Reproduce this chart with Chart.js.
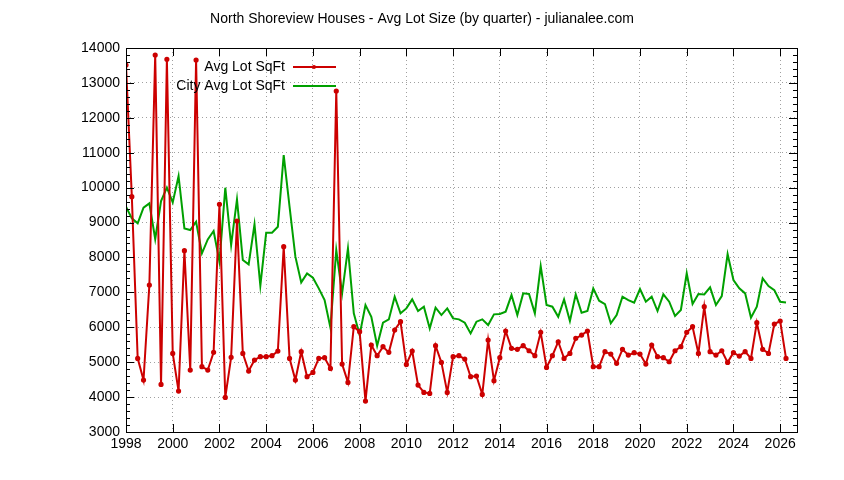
<!DOCTYPE html>
<html><head><meta charset="utf-8">
<script src="https://cdn.jsdelivr.net/npm/chart.js@4"></script>
<style>html,body{margin:0;padding:0;background:#fff}#w{width:844px;height:480px}</style>
</head><body><div id="w"><canvas id="c"></canvas></div>
<script>
const startYear = 1998;
const avgLot = [13513,9740,5109,4488,7210,13799,4364,13675,5252,4173,8193,4775,13656,4870,4775,5281,9521,3991,5138,9043,5252,4746,5061,5157,5157,5185,5319,8308,5109,4488,5300,4584,4708,5109,5128,4822,12768,4946,4421,6016,5873,3886,5491,5185,5443,5281,5921,6160,4937,5319,4345,4135,4106,5472,4994,4135,5157,5185,5090,4584,4603,4077,5634,4469,5128,5892,5396,5367,5472,5328,5185,5854,4851,5185,5586,5109,5252,5682,5777,5892,4870,4870,5300,5233,4966,5367,5204,5271,5233,4946,5491,5157,5128,5013,5328,5443,5854,6016,5252,6589,5300,5204,5328,4994,5271,5176,5300,5109,6131,5367,5252,6093,6179,5109];
const cityAvg = [9454,9120,8977,9425,9550,8528,9616,9998,9578,10333,8833,8786,9024,8117,8518,8757,7878,9998,8356,9664,7926,7802,8948,7191,8709,8709,8881,10934,9454,8022,7286,7544,7420,7114,6780,5987,8213,6971,8260,6398,5777,6637,6302,5472,6131,6226,6876,6398,6541,6799,6465,6589,5968,6560,6350,6541,6255,6226,6131,5825,6160,6226,6064,6370,6379,6446,6923,6350,6971,6952,6398,7754,6637,6589,6302,6799,6179,6942,6417,6465,7114,6761,6665,6112,6350,6876,6780,6704,7095,6732,6876,6465,6942,6732,6322,6494,7544,6665,6952,6942,7143,6637,6895,8098,7353,7114,6971,6274,6589,7401,7181,7066,6732,6713];
const xTicks = [1998,2000,2002,2004,2006,2008,2010,2012,2014,2016,2018,2020,2022,2024,2026];
const labels = ["Avg Lot SqFt","City Avg Lot SqFt"];
const title = "North Shoreview Houses - Avg Lot Size (by quarter) - julianalee.com";
const toXY = a => a.map((v,i)=>({x:startYear+i*0.25,y:v}));
const FONT = "'Liberation Sans', Arial, sans-serif";

const deco = {
  id:'deco',
  afterDraw(ch){
    const c=ch.ctx, a=ch.chartArea;
    c.save();
    c.strokeStyle='#000'; c.lineWidth=1;
    c.strokeRect(a.left+0.5,a.top+0.5,a.right-a.left,a.bottom-a.top);
    const y=ch.scales.y;
    for(let v=3000;v<=14000;v+=200){
      const p=Math.round(y.getPixelForValue(v))+0.5;
      const l=(v%1000===0)?8:4;
      c.beginPath();c.moveTo(a.left,p);c.lineTo(a.left+l,p);c.moveTo(a.right,p);c.lineTo(a.right-l,p);c.stroke();
    }
    const x=ch.scales.x;
    xTicks.forEach(v=>{
      const p=Math.round(x.getPixelForValue(v))+0.5;
      c.beginPath();c.moveTo(p,a.bottom);c.lineTo(p,a.bottom-8);c.moveTo(p,a.top);c.lineTo(p,a.top+8);c.stroke();
    });
    c.fillStyle='#000'; c.font='14px '+FONT; c.textAlign='center'; c.textBaseline='middle';
    c.fillText(title,422,19);
    c.textAlign='right';
    const cols=['#cc0000','#00a000'];
    labels.forEach((t,i)=>{
      const yy=67+i*19;
      c.fillText(t,285,yy);
      c.strokeStyle=cols[i]; c.lineWidth=2;
      c.beginPath();c.moveTo(293,yy);c.lineTo(336,yy);c.stroke();
      if(i===0){c.fillStyle=cols[0];c.beginPath();c.arc(314,yy,2,0,7);c.fill();c.fillStyle='#000';}
    });
    c.restore();
  }
};

new Chart(document.getElementById('c'),{
  type:'line',
  data:{datasets:[
    {label:labels[0],data:toXY(avgLot),borderColor:'#cc0000',backgroundColor:'#cc0000',borderWidth:2,pointRadius:1.6,pointHoverRadius:1.6,tension:0},
    {label:labels[1],data:toXY(cityAvg),borderColor:'#00a000',backgroundColor:'#00a000',borderWidth:2,pointRadius:0,tension:0}
  ]},
  options:{
    responsive:true,maintainAspectRatio:false,animation:false,
    layout:{padding:{left:0,right:47,top:48,bottom:0}},
    plugins:{legend:{display:false},title:{display:false},tooltip:{enabled:false}},
    scales:{
      x:{type:'linear',min:1998,max:2026.72,
        afterBuildTicks(s){s.ticks=xTicks.map(v=>({value:v}));},
        ticks:{color:'#000',font:{family:FONT,size:14},padding:4,maxRotation:0,autoSkip:false,
          callback:v=>String(v)},
        grid:{color:'#a0a0a0',drawTicks:false,lineWidth:1},
        border:{display:false,dash:[1,3]},
        afterFit(s){s.height=48;}},
      y:{min:3000,max:14000,
        ticks:{stepSize:1000,color:'#000',font:{family:FONT,size:14},padding:6,callback:v=>String(v)},
        grid:{color:'#a0a0a0',drawTicks:false,lineWidth:1},
        border:{display:false,dash:[1,3]},
        afterFit(s){s.width=126;}}
    }
  },
  plugins:[deco]
});
</script></body></html>
